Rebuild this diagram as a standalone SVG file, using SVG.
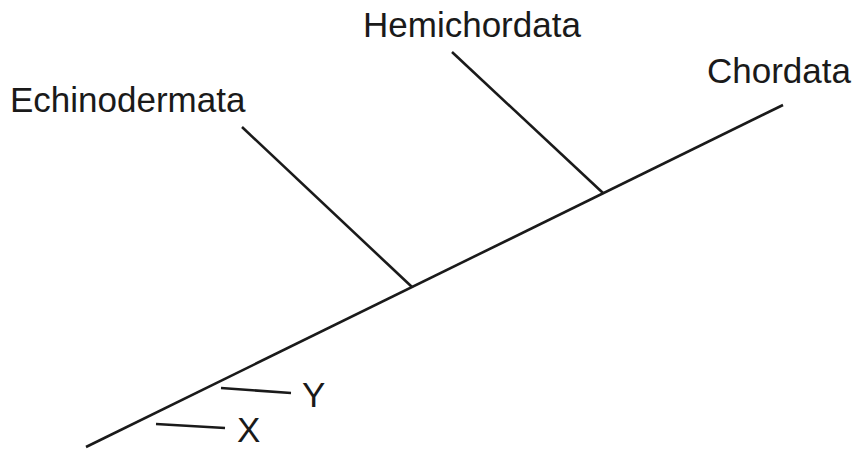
<svg xmlns="http://www.w3.org/2000/svg" width="856" height="449" viewBox="0 0 856 449">
<style>
.ln{stroke:#1a1a1a;stroke-width:2.6;fill:none;stroke-linecap:butt}
.lb{font-family:"Liberation Sans",Arial,sans-serif;font-size:35px;fill:#1a1a1a}
</style>
<rect width="856" height="449" fill="#fff"/>
<g id="connectors">
<line class="ln" x1="86" y1="447" x2="783" y2="105"/>
<line class="ln" x1="242" y1="127" x2="412" y2="287"/>
<line class="ln" x1="452" y1="52" x2="603" y2="193"/>
<line class="ln" x1="221" y1="388" x2="291" y2="393"/>
<line class="ln" x1="156" y1="424" x2="225" y2="428"/>
</g>
<g id="echinodermata"><text class="lb" x="10" y="112">Echinodermata</text></g>
<g id="hemichordata"><text class="lb" x="363" y="37">Hemichordata</text></g>
<g id="chordata"><text class="lb" x="707" y="83">Chordata</text></g>
<g id="y"><text class="lb" x="302" y="407">Y</text></g>
<g id="x"><text class="lb" x="237" y="442">X</text></g>
</svg>
